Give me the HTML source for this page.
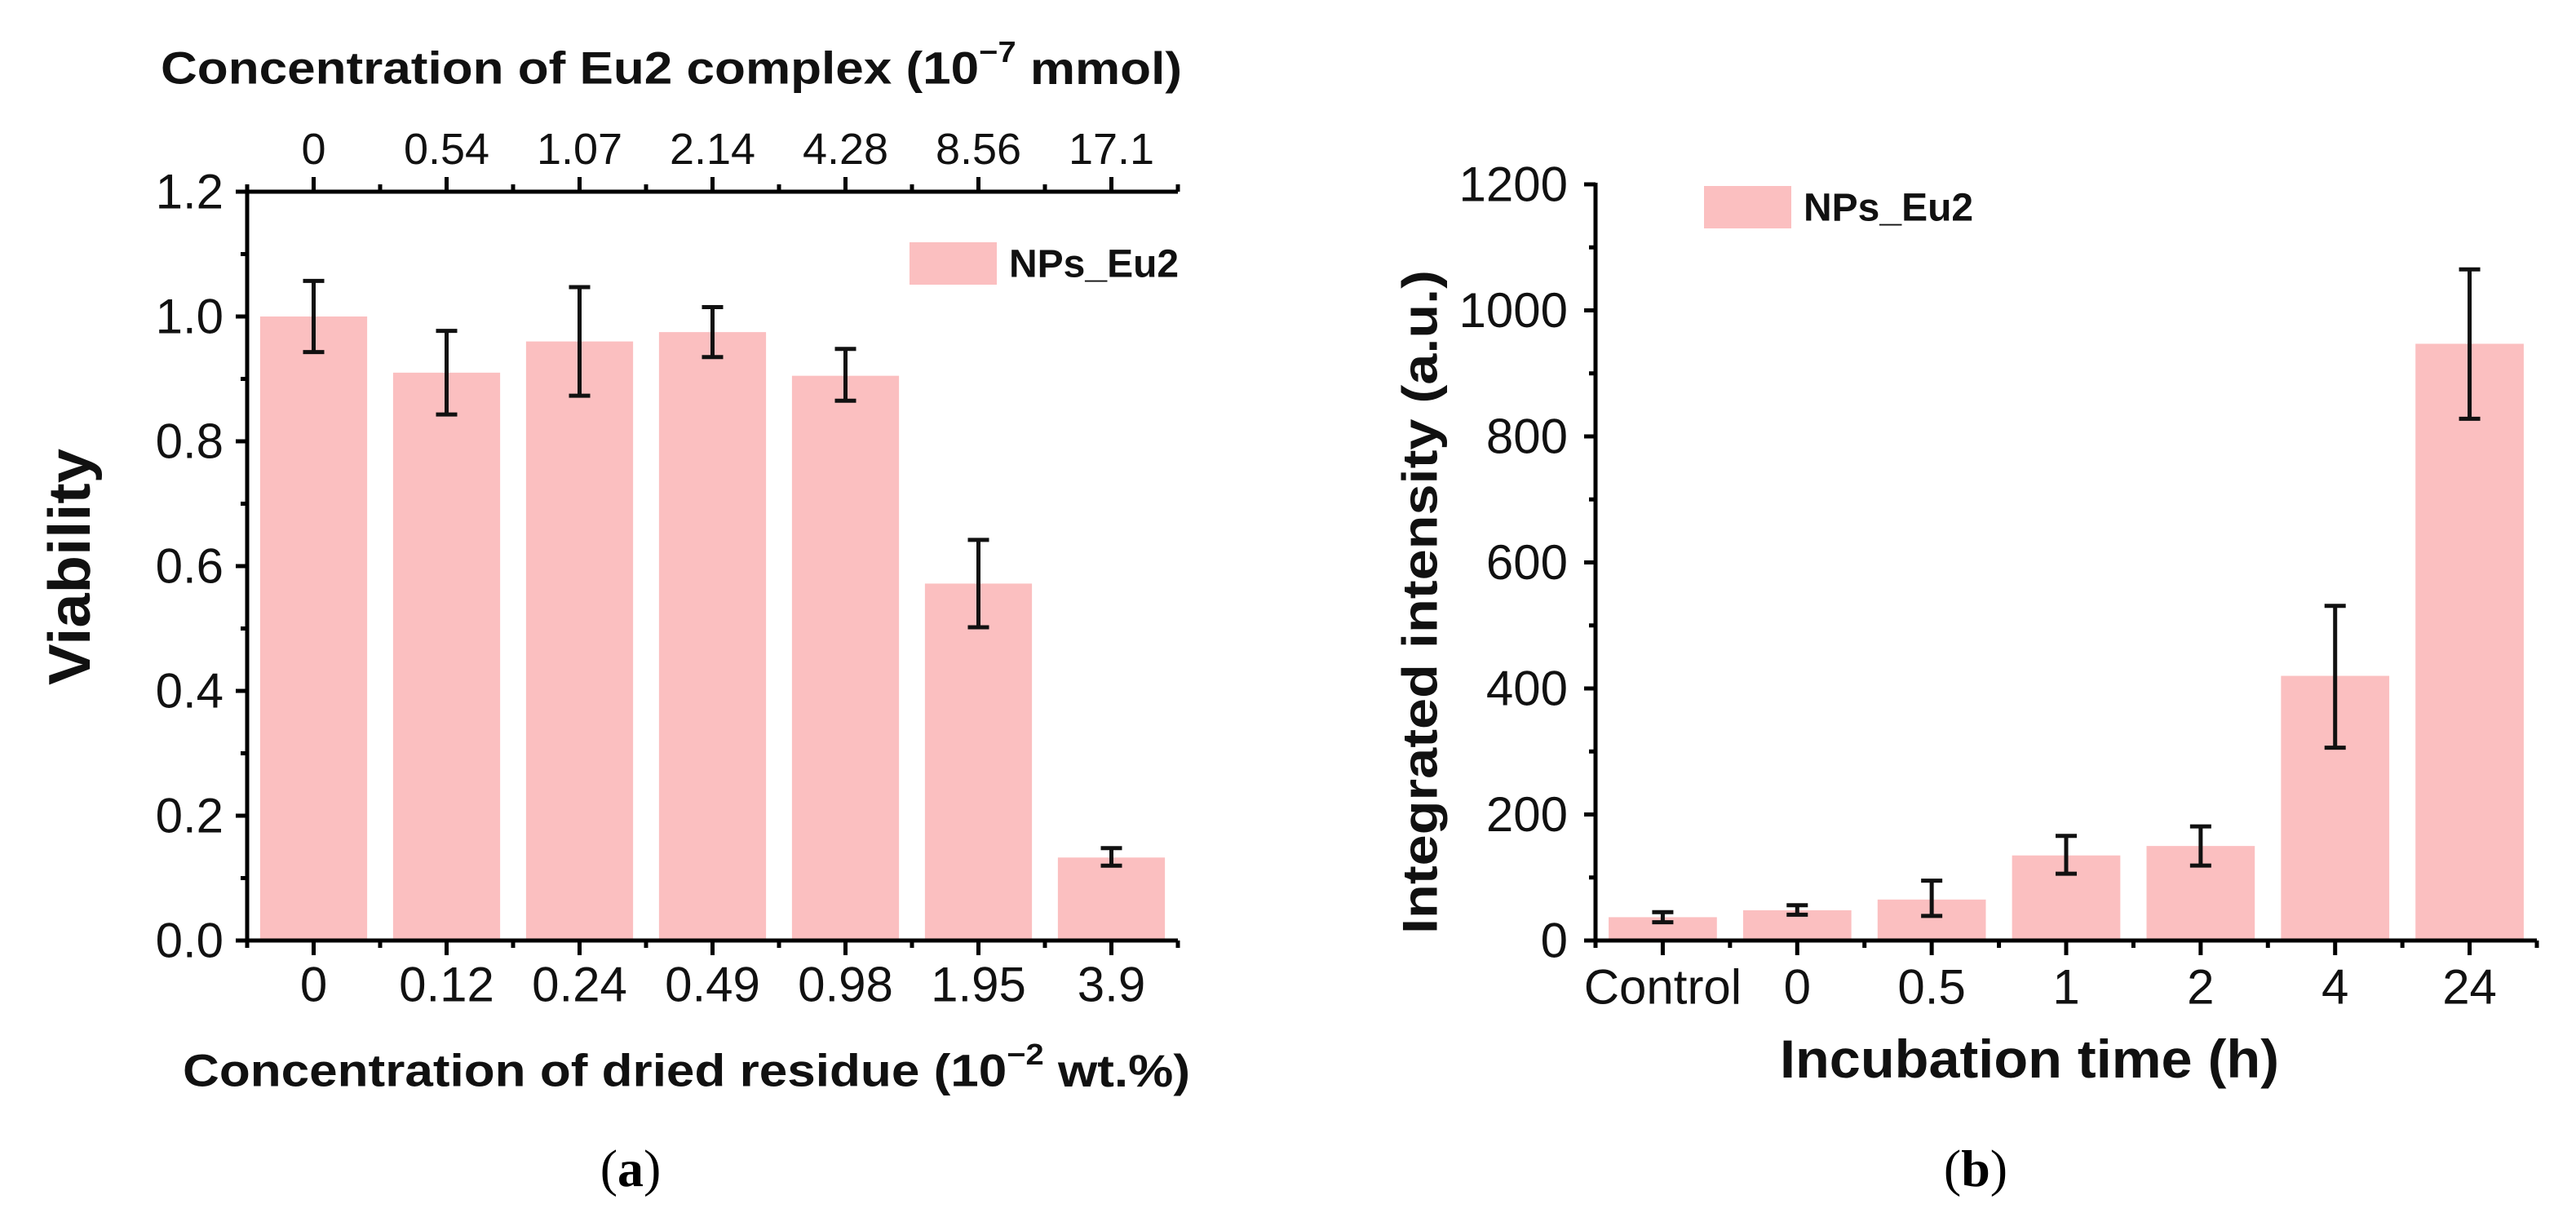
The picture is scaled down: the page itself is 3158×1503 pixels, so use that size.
<!DOCTYPE html>
<html><head><meta charset="utf-8">
<style>
html,body{margin:0;padding:0;background:#fff;}
svg{display:block;font-family:"Liberation Sans",Arial,sans-serif;}
</style></head>
<body>
<svg id="fig" width="3158" height="1503" viewBox="0 0 3158 1503" xmlns="http://www.w3.org/2000/svg">
<g id="chartA"></g>
<g id="chartB"></g>
</svg>
<script>
// ---- Chart (a) data ----
const catsA = ["0","0.12","0.24","0.49","0.98","1.95","3.9"];
const topCatsA = ["0","0.54","1.07","2.14","4.28","8.56","17.1"];
const valsA = [1.0, 0.91, 0.96, 0.975, 0.905, 0.572, 0.133];
const errHiA = [1.057, 0.977, 1.047, 1.015, 0.948, 0.642, 0.148];
const errLoA = [0.943, 0.843, 0.873, 0.935, 0.865, 0.502, 0.120];
const yTicksA = ["0.0","0.2","0.4","0.6","0.8","1.0","1.2"];
// ---- Chart (b) data ----
const catsB = ["Control","0","0.5","1","2","4","24"];
const valsB = [37, 48, 65, 135, 150, 420, 947];
const errHiB = [45, 56, 95, 166, 181, 531, 1065];
const errLoB = [29, 41, 39, 106, 119, 306, 828];
const yTicksB = ["0","200","400","600","800","1000","1200"];

const NS="http://www.w3.org/2000/svg";
const BAR="#fbbfc0";
function mk(parent, tag, attrs, text){
  const e=document.createElementNS(NS,tag);
  for(const k in attrs) e.setAttribute(k,attrs[k]);
  if(text!==undefined) e.textContent=text;
  parent.appendChild(e); return e;
}

function drawChart(g, cfg){
  const xs = i => cfg.x0 + (i + 0.5) * (cfg.x1 - cfg.x0) / cfg.n;
  const ys = v => cfg.yb - (v - cfg.ymin) / (cfg.ymax - cfg.ymin) * (cfg.yb - cfg.yt);
  const bw = (cfg.x1 - cfg.x0) / cfg.n * 0.805;
  cfg.vals.forEach((v,i)=>{
    const r=mk(g,"rect",{x:xs(i)-bw/2,y:ys(v),width:bw,height:ys(cfg.ymin)-ys(v),fill:BAR});
    
    
  });
  cfg.vals.forEach((v,i)=>{
    const eg=mk(g,"g",{stroke:"#111","stroke-width":5});
    
    
    const x=xs(i), h=ys(cfg.hi[i]), l=ys(cfg.lo[i]);
    mk(eg,"line",{x1:x,x2:x,y1:h,y2:l});
    mk(eg,"line",{x1:x-13,x2:x+13,y1:h,y2:h});
    mk(eg,"line",{x1:x-13,x2:x+13,y1:l,y2:l});
  });
  const ax=mk(g,"g",{stroke:"#000","stroke-width":5,fill:"none"});
  
  
  mk(ax,"line",{x1:cfg.x0,x2:cfg.x0,y1:cfg.yt-2,y2:cfg.yb+2});
  mk(ax,"line",{x1:cfg.x0-14,x2:cfg.x1,y1:cfg.yb,y2:cfg.yb});
  if(cfg.topAxis) mk(ax,"line",{x1:cfg.x0-14,x2:cfg.x1,y1:cfg.yt,y2:cfg.yt});
  else mk(ax,"line",{x1:cfg.x0-14,x2:cfg.x0,y1:cfg.yt,y2:cfg.yt});
  const nT=cfg.yTicks.length;
  for(let k=0;k<nT;k++){
    const v=cfg.ymin+k*(cfg.ymax-cfg.ymin)/(nT-1), y=ys(v);
    mk(ax,"line",{x1:cfg.x0-14,x2:cfg.x0,y1:y,y2:y});
    if(k<nT-1){const ym=ys(v+(cfg.ymax-cfg.ymin)/(nT-1)/2); mk(ax,"line",{x1:cfg.x0-8,x2:cfg.x0,y1:ym,y2:ym});}
    const t=mk(g,"text",{x:cfg.yLabX,y:y,"text-anchor":"end","dominant-baseline":"central","font-size":cfg.yFs,fill:"#111"},cfg.yTicks[k]);
    
    
  }
  for(let i=0;i<cfg.n;i++){
    const x=xs(i);
    mk(ax,"line",{x1:x,x2:x,y1:cfg.yb,y2:cfg.yb+18});
    const xm=cfg.x0+(i+1)*(cfg.x1-cfg.x0)/cfg.n;
    mk(ax,"line",{x1:xm,x2:xm,y1:cfg.yb,y2:cfg.yb+9});
    if(cfg.topAxis){
      mk(ax,"line",{x1:x,x2:x,y1:cfg.yt,y2:cfg.yt-18});
      mk(ax,"line",{x1:xm,x2:xm,y1:cfg.yt,y2:cfg.yt-9});
      const tt=mk(g,"text",{x:x,y:cfg.topLabY,"text-anchor":"middle","dominant-baseline":"central","font-size":cfg.topFs,fill:"#111"},cfg.topCats[i]);
      
      
    }
    const t=mk(g,"text",{x:x,y:cfg.xLabY,"text-anchor":"middle","dominant-baseline":"central","font-size":cfg.xFs,fill:"#111"},cfg.cats[i]);
    
    
  }
  if(cfg.topAxis){ mk(ax,"line",{x1:cfg.x0,x2:cfg.x0,y1:cfg.yt,y2:cfg.yt-9}); }
  mk(ax,"line",{x1:cfg.x0,x2:cfg.x0,y1:cfg.yb,y2:cfg.yb+9});
  const lg=mk(g,"g",{});
  
  
  mk(lg,"rect",{x:cfg.legX,y:cfg.legY,width:107,height:52,fill:BAR});
  mk(lg,"text",{x:cfg.legX+122,y:cfg.legY+27,"dominant-baseline":"central","font-size":48,"font-weight":"bold",fill:"#111"},"NPs_Eu2");
}

const gA=document.getElementById("chartA");
drawChart(gA,{id:"a",n:7,x0:303,x1:1444,yt:235,yb:1153,ymin:0,ymax:1.2,
  vals:valsA,hi:errHiA,lo:errLoA,cats:catsA,topCats:topCatsA,yTicks:yTicksA,topAxis:true,
  yLabX:274,yFs:60,xLabY:1207,xFs:60,topLabY:183,topFs:54,legX:1115,legY:297});
const gB=document.getElementById("chartB");
drawChart(gB,{id:"b",n:7,x0:1956,x1:3110,yt:226,yb:1153,ymin:0,ymax:1200,
  vals:valsB,hi:errHiB,lo:errLoB,cats:catsB,yTicks:yTicksB,topAxis:false,
  yLabX:1922,yFs:60,xLabY:1210,xFs:60,legX:2089,legY:228});

function title(g,attrs,txt,name){
  const t=mk(g,"text",Object.assign({fill:"#111","font-weight":"bold","dominant-baseline":"central"},attrs));
  t.innerHTML=txt;
  
  
  return t;
}
title(gA,{x:197,y:83,"font-size":56,textLength:1252,lengthAdjust:"spacingAndGlyphs"},'Concentration of Eu2 complex (10<tspan dy="-20" font-size="36">−7</tspan><tspan dy="20"> mmol)</tspan>','top-x-axis-title');
title(gA,{x:224,y:1312,"font-size":56,textLength:1235,lengthAdjust:"spacingAndGlyphs"},'Concentration of dried residue (10<tspan dy="-20" font-size="36">−2</tspan><tspan dy="20"> wt.%)</tspan>','x-axis-title-a');
title(gA,{x:0,y:0,"font-size":72,"text-anchor":"middle",transform:"translate(86,695) rotate(-90)",textLength:290,lengthAdjust:"spacingAndGlyphs"},'Viability','y-axis-title-a');
title(gB,{x:2488,y:1298,"font-size":66,"text-anchor":"middle",textLength:612,lengthAdjust:"spacingAndGlyphs"},'Incubation time (h)','x-axis-title-b');
title(gB,{x:0,y:0,"font-size":60,"text-anchor":"middle",transform:"translate(1741,738) rotate(-90)",textLength:814,lengthAdjust:"spacingAndGlyphs"},'Integrated intensity (a.u.)','y-axis-title-b');
const la=mk(gA,"text",{x:773,y:1432,"text-anchor":"middle","dominant-baseline":"central","font-size":64,"font-family":"Liberation Serif, serif",fill:"#000"});
la.innerHTML='(<tspan font-weight="bold">a</tspan>)';


const lb=mk(gB,"text",{x:2422,y:1432,"text-anchor":"middle","dominant-baseline":"central","font-size":64,"font-family":"Liberation Serif, serif",fill:"#000"});
lb.innerHTML='(<tspan font-weight="bold">b</tspan>)';


</script>
</body></html>
